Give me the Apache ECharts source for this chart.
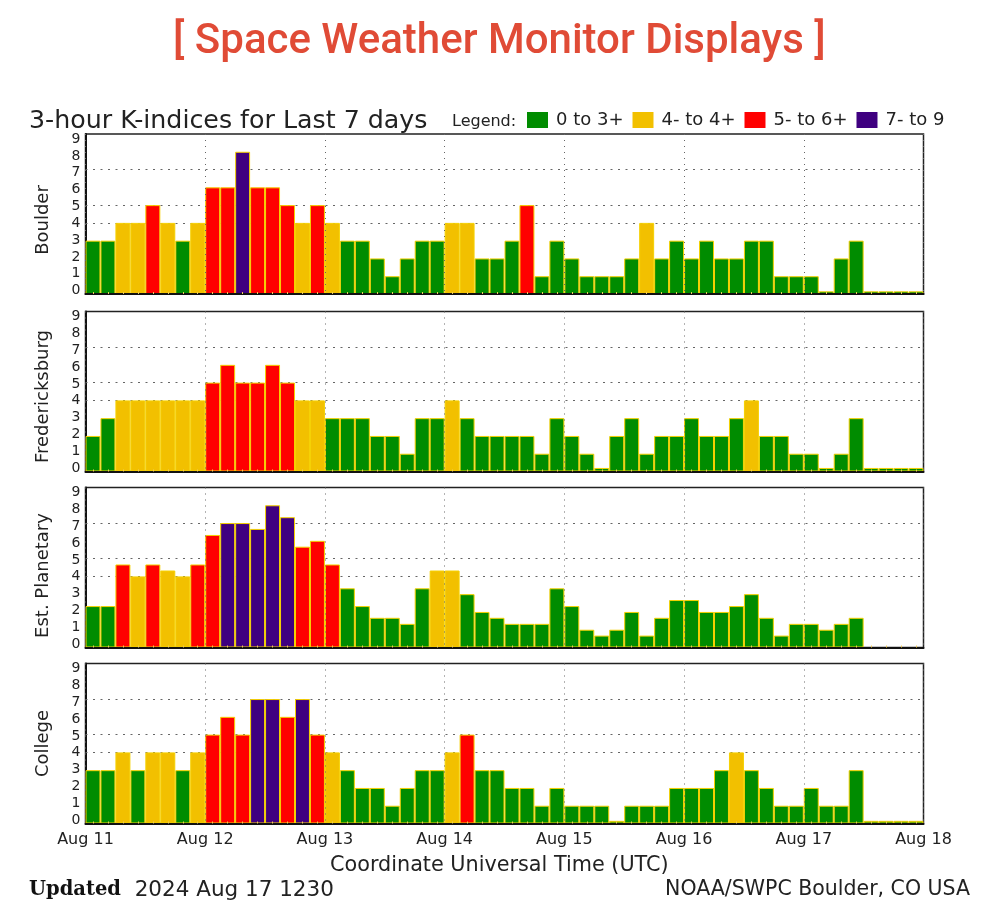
<!DOCTYPE html>
<html>
<head>
<meta charset="utf-8">
<title>Space Weather Monitor Displays</title>
<style>
html, body { margin: 0; padding: 0; background: #fff; }
#chart { width: 986px; height: 918px; }
</style>
<script src="https://cdn.jsdelivr.net/npm/echarts@6/dist/echarts.min.js"></script>
</head>
<body>
<div id="chart"></div>
<script>
// 3-hourly K-index, 8 bars a day, Aug 11 to Aug 17
const boulder = [
    3, 3, 4, 4, 5, 4, 3, 4,
    6, 6, 8, 6, 6, 5, 4, 5,
    4, 3, 3, 2, 1, 2, 3, 3,
    4, 4, 2, 2, 3, 5, 1, 3,
    2, 1, 1, 1, 2, 4, 2, 3,
    2, 3, 2, 2, 3, 3, 1, 1,
    1, 0.15, 2, 3, 0.15, 0.15, 0.15, 0.15
];
const fredericksburg = [
    2, 3, 4, 4, 4, 4, 4, 4,
    5, 6, 5, 5, 6, 5, 4, 4,
    3, 3, 3, 2, 2, 1, 3, 3,
    4, 3, 2, 2, 2, 2, 1, 3,
    2, 1, 0.2, 2, 3, 1, 2, 2,
    3, 2, 2, 3, 4, 2, 2, 1,
    1, 0.2, 1, 3, 0.2, 0.2, 0.2, 0.2
];
const planetary = [
    2.33, 2.33, 4.67, 4, 4.67, 4.33, 4, 4.67,
    6.33, 7, 7, 6.67, 8, 7.33, 5.67, 6,
    4.67, 3.33, 2.33, 1.67, 1.67, 1.33, 3.33, 4.33,
    4.33, 3, 2, 1.67, 1.33, 1.33, 1.33, 3.33,
    2.33, 1, 0.67, 1, 2, 0.67, 1.67, 2.67,
    2.67, 2, 2, 2.33, 3, 1.67, 0.67, 1.33,
    1.33, 1, 1.33, 1.67, null, null, null, null
];
const college = [
    3, 3, 4, 3, 4, 4, 3, 4,
    5, 6, 5, 7, 7, 6, 7, 5,
    4, 3, 2, 2, 1, 2, 3, 3,
    4, 5, 3, 3, 2, 2, 1, 2,
    1, 1, 1, 0.15, 1, 1, 1, 2,
    2, 2, 3, 4, 3, 2, 1, 1,
    2, 1, 1, 3, 0.15, 0.15, 0.15, 0.15
];

const stations = ['Boulder', 'Fredericksburg', 'Est. Planetary', 'College'];
const stationValues = [boulder, fredericksburg, planetary, college];
const dayLabels = ['Aug 11', 'Aug 12', 'Aug 13', 'Aug 14', 'Aug 15', 'Aug 16', 'Aug 17', 'Aug 18'];
const kLabels = [0, 1, 2, 3, 4, 5, 6, 7, 8, 9];
const guideLevels = [4, 5, 7];

const bandNames = ['0 to 3+', '4- to 4+', '5- to 6+', '7- to 9'];
const bandColors = ['#008c00', '#f2c000', '#ff0000', '#3f0080'];
const bandLimits = [3.5, 4.5, 6.5, 9.5];

const gridTops = [134, 311.5, 487.5, 663.5];
const gridHeight = 160;
// the station names are not quite centred on their panels in the original
const nameShift = [12, 10, 16, 0];
const plotFont = 'DejaVu Sans';
const inkColor = '#222';

const slots = boulder.map((v, i) => String(i));

function bandOf(v) {
    return bandLimits.findIndex((limit) => v < limit);
}

const grids = [];
const xAxes = [];
const yAxes = [];
const series = [];

stations.forEach((station, p) => {
    grids.push({
        left: 85.5,
        width: 838,
        top: gridTops[p],
        height: gridHeight,
        show: true,
        borderColor: inkColor,
        borderWidth: 1.5,
        backgroundColor: '#fff'
    });

    // bars sit on this one, the little ticks mark each 3 hour slot
    xAxes.push({
        type: 'category',
        gridIndex: p,
        position: 'bottom',
        data: slots,
        z: 5,
        axisLine: { show: true, lineStyle: { color: '#111', width: 2 } },
        axisTick: {
            show: true,
            alignWithLabel: true,
            inside: true,
            interval: 0,
            length: 2,
            lineStyle: { color: '#eecb5a', width: 1 }
        },
        axisLabel: { show: false }
    });

    // day scale, dotted lines run over the bars like in the original plot
    xAxes.push({
        type: 'value',
        gridIndex: p,
        position: 'bottom',
        min: 0,
        max: 7,
        interval: 1,
        z: 5,
        axisLine: { show: false },
        axisTick: { show: false },
        axisLabel: {
            show: p === 3,
            margin: 8,
            fontFamily: plotFont,
            fontSize: 16,
            color: inkColor,
            formatter: (v) => dayLabels[v]
        },
        splitLine: {
            show: true,
            lineStyle: { color: '#666', width: 1, type: [1, 5] }
        }
    });

    yAxes.push({
        type: 'value',
        gridIndex: p,
        position: 'left',
        min: 0,
        max: 9,
        interval: 1,
        name: station,
        nameLocation: 'middle',
        nameRotate: 90,
        nameGap: 33,
        nameTextStyle: {
            fontFamily: plotFont,
            fontSize: 18,
            color: inkColor,
            padding: [0, nameShift[p], 0, 0]
        },
        axisLine: { show: true, lineStyle: { color: '#111', width: 2 } },
        axisTick: { show: false },
        axisLabel: { show: false },
        splitLine: { show: false }
    });

    // labels only: the original squeezes its digits a bit inside the frame
    yAxes.push({
        type: 'value',
        gridIndex: p,
        position: 'left',
        min: -0.2,
        max: 9.3,
        axisLine: { show: false },
        axisTick: { show: false },
        axisLabel: {
            customValues: kLabels,
            margin: 5,
            fontFamily: plotFont,
            fontSize: 14,
            color: inkColor
        },
        splitLine: { show: false }
    });

    // one bar series per colour band, stacked so they keep the full slot width
    bandNames.forEach((name, b) => {
        const item = {
            type: 'bar',
            name: name,
            xAxisIndex: p * 2,
            yAxisIndex: p * 2,
            stack: station,
            barWidth: '100%',
            z: 2,
            silent: true,
            itemStyle: {
                color: bandColors[b],
                borderColor: '#f5d000',
                borderWidth: 1
            },
            data: stationValues[p].map((v) => (v !== null && bandOf(v) === b ? v : null))
        };
        if (b === 0) {
            item.markLine = {
                silent: true,
                symbol: 'none',
                z: 1,
                label: { show: false },
                lineStyle: { color: '#666', width: 1, type: [2, 5.5] },
                data: guideLevels.map((level) => ({ yAxis: level }))
            };
        }
        series.push(item);
    });
});

const chart = echarts.init(document.getElementById('chart'));
chart.setOption({
    animation: false,
    backgroundColor: '#fff',
    title: [
        {
            text: '[ Space Weather Monitor Displays ]',
            left: 173,
            top: 21,
            padding: 0,
            textStyle: { fontFamily: 'Roboto', fontSize: 42, fontWeight: 500, color: '#e04b36' }
        },
        {
            text: '3-hour K-indices for Last 7 days',
            left: 29,
            top: 109,
            padding: 0,
            textStyle: { fontFamily: plotFont, fontSize: 25.3, fontWeight: 'normal', color: inkColor }
        },
        {
            text: 'Legend:',
            left: 452,
            top: 114,
            padding: 0,
            textStyle: { fontFamily: plotFont, fontSize: 16, fontWeight: 'normal', color: inkColor }
        },
        {
            text: 'Coordinate Universal Time (UTC)',
            left: 330,
            top: 855,
            padding: 0,
            textStyle: { fontFamily: plotFont, fontSize: 20.75, fontWeight: 'normal', color: inkColor }
        },
        {
            text: '{b|Updated}  2024 Aug 17 1230',
            left: 29,
            top: 879,
            padding: 0,
            textStyle: {
                fontFamily: plotFont,
                fontSize: 21.5,
                fontWeight: 'normal',
                color: inkColor,
                rich: {
                    b: { fontFamily: 'DejaVu Serif', fontSize: 19.5, fontWeight: 'bold', color: '#111' }
                }
            }
        },
        {
            text: 'NOAA/SWPC Boulder, CO USA',
            right: 16,
            top: 879,
            padding: 0,
            textStyle: { fontFamily: plotFont, fontSize: 20.5, fontWeight: 'normal', color: inkColor }
        }
    ],
    legend: {
        data: bandNames,
        icon: 'rect',
        left: 527,
        top: 111,
        itemWidth: 21,
        itemHeight: 16,
        itemGap: 9,
        selectedMode: false,
        padding: 0,
        itemStyle: { borderWidth: 0 },
        textStyle: { fontFamily: plotFont, fontSize: 18, color: inkColor, padding: [5, 0, 0, 3] }
    },
    grid: grids,
    xAxis: xAxes,
    yAxis: yAxes,
    series: series
});
</script>
</body>
</html>
